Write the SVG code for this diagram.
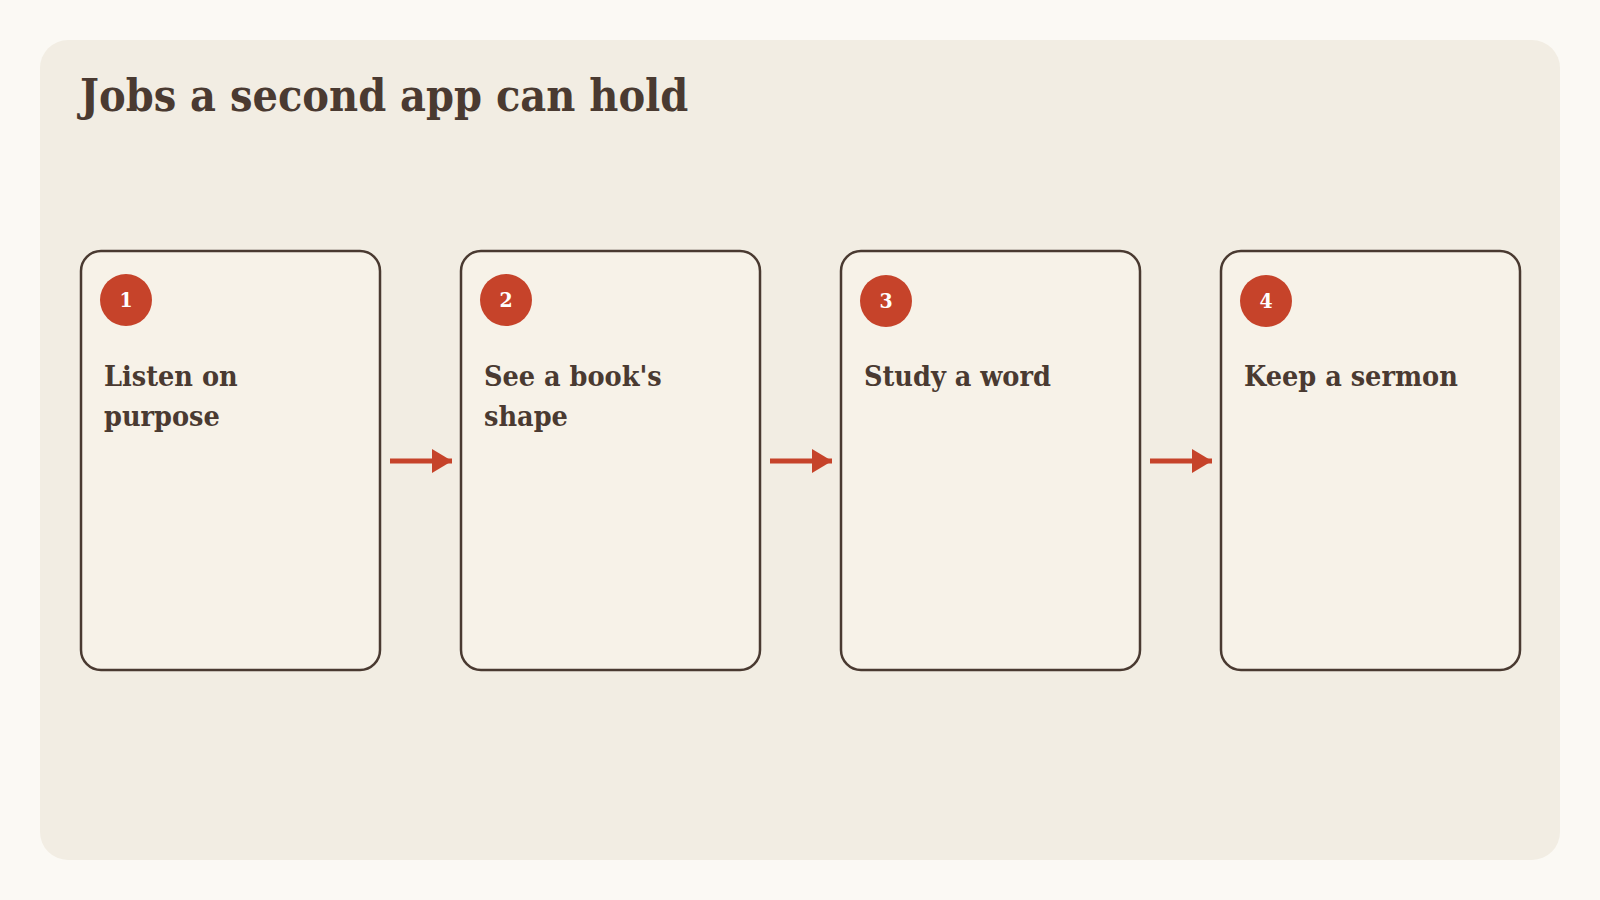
<svg xmlns="http://www.w3.org/2000/svg" width="1600" height="900" viewBox="0 0 1600 900">
<style>
  .card { fill: #F7F2E8; stroke: #4A3A31; stroke-width: 2.5; }
  .badge { fill: #C6432A; }
  .num { font-family: "DejaVu Serif Condensed", "DejaVu Serif", serif; font-stretch: condensed; font-weight: bold; font-size: 21px; fill: #FFFFFF; text-anchor: middle; }
  .label { font-family: "DejaVu Serif Condensed", "DejaVu Serif", serif; font-stretch: condensed; font-weight: bold; font-size: 28.5px; fill: #4A3A31; }
  .title { font-family: "DejaVu Serif Condensed", "DejaVu Serif", serif; font-stretch: condensed; font-weight: bold; font-size: 44.5px; fill: #4A3A31; }
  .conn { stroke: #C6432A; stroke-width: 5; fill: none; }
</style>
<defs>
  <marker id="arrow" viewBox="0 0 20 24" refX="20" refY="12" markerWidth="20" markerHeight="24" markerUnits="userSpaceOnUse" orient="auto">
    <path d="M0,0 L20,12 L0,24 Z" fill="#C6432A"/>
  </marker>
</defs>
<rect x="0" y="0" width="1600" height="900" fill="#FBF9F4"/>
<rect x="40" y="40" width="1520" height="820" rx="28" fill="#F2EDE3"/>
<text class="title" x="80" y="111">Jobs a second app can hold</text>
<g id="connectors">
  <line class="conn" x1="390" y1="461" x2="452" y2="461" marker-end="url(#arrow)"/>
  <line class="conn" x1="770" y1="461" x2="832" y2="461" marker-end="url(#arrow)"/>
  <line class="conn" x1="1150" y1="461" x2="1212" y2="461" marker-end="url(#arrow)"/>
</g>
<g id="node1">
  <rect class="card" x="81" y="251" width="299" height="419" rx="20"/>
  <circle class="badge" cx="126" cy="300" r="26"/>
  <text class="num" x="126" y="307">1</text>
  <text class="label" x="104" y="386">Listen on</text>
  <text class="label" x="104" y="426">purpose</text>
</g>
<g id="node2">
  <rect class="card" x="461" y="251" width="299" height="419" rx="20"/>
  <circle class="badge" cx="506" cy="300" r="26"/>
  <text class="num" x="506" y="307">2</text>
  <text class="label" x="484" y="386">See a book's</text>
  <text class="label" x="484" y="426">shape</text>
</g>
<g id="node3">
  <rect class="card" x="841" y="251" width="299" height="419" rx="20"/>
  <circle class="badge" cx="886" cy="301" r="26"/>
  <text class="num" x="886" y="308">3</text>
  <text class="label" x="864" y="386">Study a word</text>
</g>
<g id="node4">
  <rect class="card" x="1221" y="251" width="299" height="419" rx="20"/>
  <circle class="badge" cx="1266" cy="301" r="26"/>
  <text class="num" x="1266" y="308">4</text>
  <text class="label" x="1244" y="386">Keep a sermon</text>
</g>
</svg>
